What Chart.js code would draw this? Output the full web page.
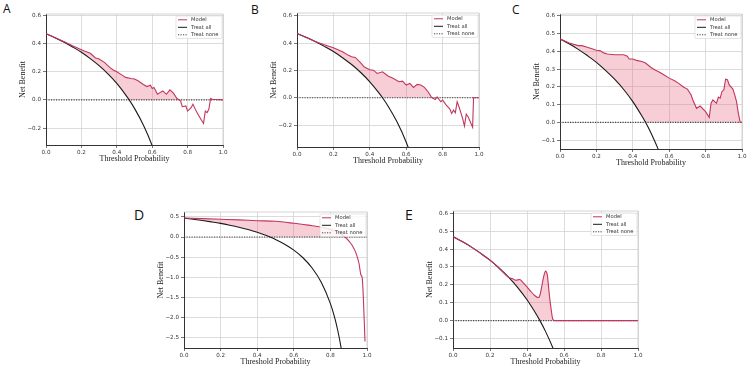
<!DOCTYPE html>
<html>
<head>
<meta charset="utf-8">
<script src="https://cdn.jsdelivr.net/npm/chart.js@4.4.1/dist/chart.umd.min.js"></script>
<style>
  html, body { margin: 0; padding: 0; background: #fff; }
  #fig { position: relative; width: 750px; height: 368px; overflow: hidden; background: #fff; }
  #fig canvas { position: absolute; }
  .tag { position: absolute; font-family: 'Open Sans', sans-serif; color: #111; line-height: 1; }
</style>
</head>
<body>
<div id="fig">
  <div class="tag" style="left:3px;top:3px;font-size:12px">A</div>
  <div class="tag" style="left:251px;top:4px;font-size:12px">B</div>
  <div class="tag" style="left:512px;top:4px;font-size:12px">C</div>
  <div class="tag" style="left:134px;top:208px;font-size:14px">D</div>
  <div class="tag" style="left:405px;top:208px;font-size:14px">E</div>
  <canvas id="chartA"></canvas>
  <canvas id="chartB"></canvas>
  <canvas id="chartC"></canvas>
  <canvas id="chartD"></canvas>
  <canvas id="chartE"></canvas>
</div>
<script>
// --- Data ---
const treatAllX = [0, 0.05, 0.1, 0.15, 0.2, 0.25, 0.3, 0.35, 0.4, 0.45, 0.47, 0.5, 0.55, 0.6, 0.65, 0.7, 0.75, 0.8, 0.82, 0.84, 0.86, 0.88];
const treatAllY = [0.47, 0.442, 0.411, 0.376, 0.338, 0.293, 0.243, 0.185, 0.117, 0.036, 0, -0.06, -0.178, -0.325, -0.514, -0.767, -1.12, -1.65, -1.944, -2.31, -2.786, -3.42];
const treatNoneX = [0, 1];
const treatNoneY = [0, 0];

const modelAX = [0, 0.05, 0.1, 0.15, 0.2, 0.22, 0.25, 0.28, 0.3, 0.33, 0.36, 0.38, 0.4, 0.43, 0.45, 0.48, 0.5, 0.52, 0.55, 0.57, 0.59, 0.6, 0.61, 0.63, 0.65, 0.66, 0.68, 0.7, 0.72, 0.74, 0.76, 0.77, 0.79, 0.8, 0.82, 0.83, 0.85, 0.87, 0.89, 0.9, 0.91, 0.92, 0.93, 0.94, 1.0];
const modelAY = [0.47, 0.443, 0.415, 0.385, 0.357, 0.345, 0.331, 0.298, 0.29, 0.267, 0.231, 0.212, 0.2, 0.176, 0.16, 0.152, 0.148, 0.136, 0.11, 0.095, 0.105, 0.081, 0.088, 0.04, 0.057, 0.064, 0.04, 0.071, 0.048, 0.01, -0.007, -0.048, -0.043, -0.079, -0.055, -0.031, -0.083, -0.126, -0.167, -0.079, -0.09, -0.067, 0.01, 0.005, 0];

const modelBX = [0, 0.05, 0.1, 0.15, 0.2, 0.25, 0.28, 0.3, 0.32, 0.35, 0.37, 0.4, 0.42, 0.44, 0.47, 0.5, 0.53, 0.56, 0.58, 0.6, 0.62, 0.64, 0.66, 0.68, 0.7, 0.72, 0.74, 0.76, 0.77, 0.79, 0.8, 0.82, 0.84, 0.85, 0.86, 0.87, 0.88, 0.89, 0.91, 0.92, 0.93, 0.94, 0.965, 0.97, 1.0];
const modelBY = [0.47, 0.441, 0.412, 0.388, 0.366, 0.337, 0.312, 0.3, 0.295, 0.255, 0.225, 0.205, 0.202, 0.178, 0.19, 0.159, 0.141, 0.117, 0.122, 0.093, 0.105, 0.076, 0.098, 0.093, 0.076, 0.044, 0.002, -0.012, 0.007, -0.029, -0.017, -0.054, -0.083, -0.115, -0.09, -0.11, -0.029, -0.066, -0.151, -0.207, -0.12, -0.139, -0.215, 0, 0];

const modelCX = [0, 0.05, 0.1, 0.12, 0.15, 0.18, 0.2, 0.22, 0.24, 0.26, 0.3, 0.35, 0.37, 0.38, 0.4, 0.42, 0.45, 0.47, 0.5, 0.52, 0.55, 0.57, 0.6, 0.63, 0.65, 0.68, 0.7, 0.72, 0.73, 0.75, 0.77, 0.8, 0.82, 0.83, 0.84, 0.85, 0.86, 0.87, 0.88, 0.89, 0.9, 0.91, 0.92, 0.93, 0.95, 0.96, 0.97, 0.98, 0.99, 1.0];
const modelCY = [0.47, 0.447, 0.432, 0.432, 0.423, 0.413, 0.406, 0.404, 0.391, 0.385, 0.381, 0.381, 0.372, 0.357, 0.357, 0.349, 0.343, 0.334, 0.309, 0.296, 0.281, 0.268, 0.249, 0.234, 0.221, 0.198, 0.187, 0.155, 0.126, 0.079, 0.092, 0.06, 0.028, 0.108, 0.126, 0.117, 0.108, 0.142, 0.136, 0.174, 0.183, 0.243, 0.24, 0.211, 0.187, 0.155, 0.117, 0.051, 0, 0];

const modelDX = [0, 0.1, 0.2, 0.3, 0.4, 0.5, 0.6, 0.7, 0.74, 0.8, 0.85, 0.88, 0.905, 0.918, 0.94, 0.956, 0.967, 0.974, 0.98, 0.989];
const modelDY = [0.47, 0.455, 0.44, 0.425, 0.405, 0.39, 0.34, 0.28, 0.255, 0.19, 0.1, 0.0, -0.12, -0.2, -0.4, -0.65, -0.94, -1.02, -1.5, -2.59];

const modelEX = [0, 0.05, 0.1, 0.15, 0.2, 0.25, 0.3, 0.32, 0.34, 0.36, 0.38, 0.4, 0.42, 0.44, 0.46, 0.47, 0.48, 0.49, 0.5, 0.51, 0.52, 0.53, 0.54, 0.55, 1.0];
const modelEY = [0.47, 0.442, 0.411, 0.376, 0.338, 0.293, 0.243, 0.235, 0.226, 0.23, 0.211, 0.189, 0.164, 0.142, 0.129, 0.142, 0.193, 0.245, 0.277, 0.254, 0.151, 0.067, 0.006, 0, 0];

// y axis limits [min, max, step]
const yAxisA = [-0.32, 0.61, 0.2];
const yAxisB = [-0.36, 0.62, 0.2];
const yAxisC = [-0.15, 0.61, 0.1];
const yAxisD = [-2.75, 0.62, 0.5];
const yAxisE = [-0.153, 0.613, 0.1];

// --- Styling ---
const MODEL_RED = '#c2375e';
const PINK = 'rgba(230, 90, 120, 0.3)';
const GRID = '#d3d3d3';
const tickFont = { family: 'DejaVu Sans', size: 5.6 };
const titleFont = { family: 'Liberation Serif', size: 8 };
const fmt = v => Math.abs(v) < 1e-9 ? '0.0' : v.toFixed(1).replace('-', '\u2212');
const pts = (xs, ys) => xs.map((x, i) => ({ x: x, y: ys[i] }));

// light top/right spines
const frameLines = {
    id: 'frameLines',
    beforeDatasetsDraw(chart) {
        const { ctx, chartArea: a } = chart;
        ctx.save();
        ctx.strokeStyle = '#c9c9c9';
        ctx.lineWidth = 0.8;
        ctx.beginPath();
        ctx.moveTo(a.left, a.top);
        ctx.lineTo(a.right, a.top);
        ctx.lineTo(a.right, a.bottom);
        ctx.stroke();
        ctx.restore();
    }
};

// matplotlib-like legend box in the upper right corner
const dcaLegend = {
    id: 'dcaLegend',
    afterDatasetsDraw(chart) {
        const { ctx, chartArea: a } = chart;
        const w = 46, h = 22.5;
        const x0 = a.right - w - 1, y0 = a.top + 2;
        ctx.save();
        ctx.fillStyle = 'rgba(255,255,255,0.8)';
        ctx.strokeStyle = '#d8d8d8';
        ctx.lineWidth = 0.7;
        ctx.beginPath();
        ctx.roundRect(x0, y0, w, h, 1.5);
        ctx.fill();
        ctx.stroke();
        chart.data.datasets.slice(0, 3).forEach((ds, i) => {
            const y = y0 + 3.8 + i * 7.5;
            ctx.beginPath();
            ctx.setLineDash(ds.borderDash || []);
            ctx.strokeStyle = ds.borderColor;
            ctx.lineWidth = 1;
            ctx.moveTo(x0 + 2, y);
            ctx.lineTo(x0 + 11, y);
            ctx.stroke();
            ctx.setLineDash([]);
            ctx.fillStyle = '#333';
            ctx.font = '5.2px "DejaVu Sans"';
            ctx.textBaseline = 'middle';
            ctx.fillText(ds.label, x0 + 15, y);
        });
        ctx.restore();
    }
};

function buildPanel(id, area, yAxis, modelX, modelY, smooth) {
    const padT = 6, padR = 6, yW = 46, xH = 22;
    const canvas = document.getElementById(id);
    canvas.width = area.r - area.l + yW + padR;
    canvas.height = area.b - area.t + padT + xH;
    canvas.style.left = (area.l - yW) + 'px';
    canvas.style.top = (area.t - padT) + 'px';

    const allPts = pts(treatAllX, treatAllY);
    // fill reference: the better of treat all / treat none
    const basePts = allPts.filter(p => p.y >= 0).concat([{ x: 1, y: 0 }]);

    new Chart(canvas, {
        type: 'line',
        data: {
            datasets: [
                {
                    label: 'Model', data: pts(modelX, modelY),
                    borderColor: MODEL_RED, borderWidth: 1.1, pointRadius: 0,
                    cubicInterpolationMode: smooth ? 'monotone' : 'default', tension: 0,
                    fill: { target: 3, above: PINK, below: 'rgba(0,0,0,0)' }
                },
                {
                    label: 'Treat all', data: allPts,
                    borderColor: '#1a1a1a', borderWidth: 1.1, pointRadius: 0,
                    cubicInterpolationMode: 'monotone', fill: false
                },
                {
                    label: 'Treat none', data: pts(treatNoneX, treatNoneY),
                    borderColor: '#444', borderWidth: 1.1, borderDash: [1.2, 1.3],
                    pointRadius: 0, fill: false
                },
                {
                    label: 'base', data: basePts,
                    borderColor: 'rgba(0,0,0,0)', borderWidth: 0, pointRadius: 0,
                    cubicInterpolationMode: 'monotone', fill: false
                }
            ]
        },
        options: {
            responsive: false,
            animation: false,
            events: [],
            layout: { padding: { top: padT, right: padR, left: 0, bottom: 0 } },
            plugins: {
                legend: { display: false },
                tooltip: { enabled: false },
                filler: { drawTime: 'beforeDatasetsDraw' }
            },
            scales: {
                x: {
                    type: 'linear', min: 0, max: 1,
                    afterFit: s => { s.height = xH; },
                    ticks: { stepSize: 0.2, padding: 1, color: '#333', font: tickFont, maxRotation: 0, callback: fmt },
                    grid: { color: GRID, lineWidth: 0.8, tickLength: 3, tickColor: '#555' },
                    border: { color: '#333', width: 1 },
                    title: { display: true, text: 'Threshold Probability', font: titleFont, color: '#222', padding: { top: 0, bottom: 3.3 } }
                },
                y: {
                    type: 'linear', min: yAxis[0], max: yAxis[1],
                    afterFit: s => { s.width = yW; },
                    ticks: { stepSize: yAxis[2], includeBounds: false, padding: 2, color: '#333', font: tickFont, callback: fmt },
                    grid: { color: GRID, lineWidth: 0.8, tickLength: 3, tickColor: '#555' },
                    border: { color: '#333', width: 1 },
                    title: { display: true, text: 'Net Benefit', font: titleFont, color: '#222', padding: { top: 18.5, bottom: 0 } }
                }
            }
        },
        plugins: [frameLines, dcaLegend]
    });
}

buildPanel('chartA', { l: 46, t: 14, r: 223, b: 145 }, yAxisA, modelAX, modelAY, false);
buildPanel('chartB', { l: 297, t: 13, r: 479, b: 147 }, yAxisB, modelBX, modelBY, false);
buildPanel('chartC', { l: 560, t: 14, r: 742, b: 149 }, yAxisC, modelCX, modelCY, false);
buildPanel('chartD', { l: 184, t: 212, r: 367, b: 348 }, yAxisD, modelDX, modelDY, true);
buildPanel('chartE', { l: 453, t: 211, r: 638, b: 348 }, yAxisE, modelEX, modelEY, true);
</script>
</body>
</html>
